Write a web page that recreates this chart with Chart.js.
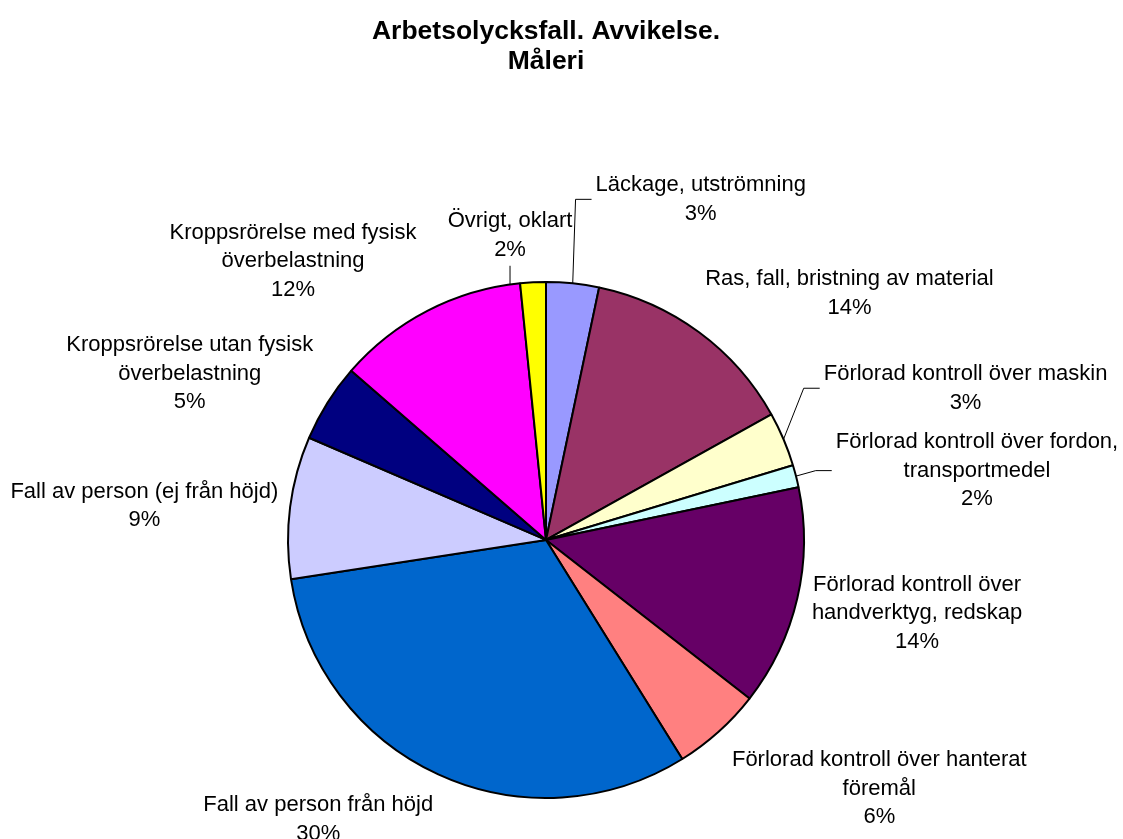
<!DOCTYPE html>
<html>
<head>
<meta charset="utf-8">
<title>Arbetsolycksfall. Avvikelse. Måleri</title>
<script src="https://cdn.jsdelivr.net/npm/chart.js@4.4.1/dist/chart.umd.min.js"></script>
<style>
  html, body { margin: 0; padding: 0; background: #ffffff; }
  #wrap { width: 1123px; height: 839px; }
</style>
</head>
<body>
<div id="wrap"><canvas id="pieChart" width="1123" height="839"></canvas></div>
<script>
// slices, clockwise from 12 o'clock
const categories = [
  'Läckage, utströmning',
  'Ras, fall, bristning av material',
  'Förlorad kontroll över maskin',
  'Förlorad kontroll över fordon,\ntransportmedel',
  'Förlorad kontroll över\nhandverktyg, redskap',
  'Förlorad kontroll över hanterat\nföremål',
  'Fall av person från höjd',
  'Fall av person (ej från höjd)',
  'Kroppsrörelse utan fysisk\növerbelastning',
  'Kroppsrörelse med fysisk\növerbelastning',
  'Övrigt, oklart'
];
const shares = [3.3, 13.6, 3.4, 1.4, 13.8, 5.6, 31.4, 8.9, 4.9, 12.0, 1.6];
const pctLabels = ['3%', '14%', '3%', '2%', '14%', '6%', '30%', '9%', '5%', '12%', '2%'];

const colors = ['#9999FF', '#993366', '#FFFFCC', '#CCFFFF', '#660066', '#FF8080',
                '#0066CC', '#CCCCFF', '#000080', '#FF00FF', '#FFFF00'];

// label placement: null = automatic, otherwise box centre offset from the slice's outer midpoint
const leaderOffsets = [[128, -84], null, [182, -51], [181, -5.5], null, null, null, null, null, null, [-23, -47]];
const leaderKind = ['side', null, 'side', 'side', null, null, null, null, null, null, 'below'];
const nudges = [[0, 0], [-4, 1], [0, 0], [0, 0], [-2, 11], [2, 9], [2, 1], [5, 1], [0, 0], [-3, 8], [0, 0]];

const FONT = '22px "Liberation Sans", Arial, sans-serif';
const LINE_H = 28.5;

const clamp = (v, a, b) => Math.max(a, Math.min(b, v));

const pieLabels = {
  id: 'pieLabels',
  afterDatasetsDraw(chart) {
    const ctx = chart.ctx;
    const arcs = chart.getDatasetMeta(0).data;
    ctx.save();
    ctx.font = FONT;
    ctx.fillStyle = '#000';
    ctx.textAlign = 'center';
    ctx.textBaseline = 'middle';
    arcs.forEach((arc, i) => {
      const p = arc.getProps(['x', 'y', 'startAngle', 'endAngle', 'outerRadius'], true);
      const mid = (p.startAngle + p.endAngle) / 2;
      const ux = Math.cos(mid), uy = Math.sin(mid);
      const lines = categories[i].split('\n').concat(pctLabels[i]);
      const w = Math.max(...lines.map(l => ctx.measureText(l).width));
      const h = lines.length * LINE_H;
      const edgeX = p.x + p.outerRadius * ux, edgeY = p.y + p.outerRadius * uy;
      let cx, cy;
      if (leaderOffsets[i]) {
        cx = edgeX + leaderOffsets[i][0];
        cy = edgeY + leaderOffsets[i][1];
      } else {
        const r = p.outerRadius + 17;
        const hx = Math.sign(ux) * clamp((Math.abs(ux) - 0.05) / 0.3, 0, 1);
        const vy = Math.sign(uy) * clamp((Math.abs(uy) - 0.25) / 0.6, 0, 1);
        cx = p.x + r * ux + hx * w / 2 + nudges[i][0];
        cy = p.y + r * uy + vy * h / 2 + nudges[i][1];
      }
      lines.forEach((l, k) => {
        ctx.fillText(l, cx, cy + (k - (lines.length - 1) / 2) * LINE_H);
      });
      // leader lines
      if (leaderKind[i]) {
        ctx.strokeStyle = '#000';
        ctx.lineWidth = 1;
        ctx.beginPath();
        if (leaderKind[i] === 'side') {
          const left = cx - w / 2;
          ctx.moveTo(edgeX, edgeY);
          ctx.lineTo(left - 20, cy);
          ctx.lineTo(left - 4, cy);
        } else {
          const top = cy + h / 2 + 2;
          const dx = cx - p.x;
          ctx.moveTo(cx, top);
          ctx.lineTo(cx, p.y - Math.sqrt(p.outerRadius * p.outerRadius - dx * dx));
        }
        ctx.stroke();
      }
    });
    ctx.restore();
  }
};

const whiteBg = {
  id: 'whiteBg',
  beforeDraw(chart) {
    const ctx = chart.ctx;
    ctx.save();
    ctx.fillStyle = '#fff';
    ctx.fillRect(0, 0, chart.width, chart.height);
    ctx.restore();
  }
};

const config = {
  type: 'pie',
  data: {
    labels: categories,
    datasets: [{
      data: shares,
      backgroundColor: colors,
      borderColor: '#000',
      borderWidth: 2
    }]
  },
  options: {
    responsive: false,
    animation: false,
    layout: {
      padding: { left: 287, right: 318, top: 0, bottom: 40 }
    },
    plugins: {
      legend: { display: false },
      tooltip: { enabled: false },
      title: {
        display: true,
        text: ['Arbetsolycksfall. Avvikelse.', 'Måleri'],
        color: '#000',
        font: {
          family: '"Liberation Sans", Arial, sans-serif',
          size: 26.5,
          weight: 'bold',
          lineHeight: 1.13
        },
        padding: { top: 17, bottom: 204 }
      }
    }
  },
  plugins: [whiteBg, pieLabels]
};

const pieChart = new Chart(document.getElementById('pieChart'), config);
</script>
</body>
</html>
